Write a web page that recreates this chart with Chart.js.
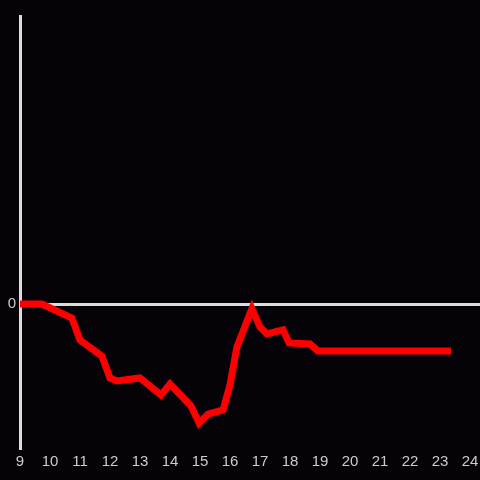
<!DOCTYPE html>
<html>
<head>
<meta charset="utf-8">
<script src="https://cdn.jsdelivr.net/npm/chart.js@4/dist/chart.umd.min.js"></script>
<style>
  html, body { margin: 0; padding: 0; background: #050307; }
  #wrap { width: 480px; height: 480px; }
</style>
</head>
<body>
<div id="wrap"><canvas id="lineChart"></canvas></div>
<script>
// hour of day and value
const hours = [9, 9.73, 10.73, 11.0, 11.73, 12.0, 12.23, 13.0, 13.7, 14.0, 14.7, 14.97,
               15.27, 15.77, 16.0, 16.23, 16.73, 17.0, 17.23, 17.77, 17.97, 18.67, 18.93, 23.37];
const values = [0, 0, -4.9, -12.5, -18.1, -25.7, -26.7, -25.7, -31.6, -27.8, -35.4, -41.3,
                -38.2, -36.8, -28.1, -14.9, -1.6, -8.0, -10.4, -9.0, -13.5, -13.9, -16.3, -16.3];
const xTicks = [9, 10, 11, 12, 13, 14, 15, 16, 17, 18, 19, 20, 21, 22, 23, 24];
const yTicks = [0];

const bgPlugin = {
  id: 'bg',
  beforeDraw(chart) {
    const ctx = chart.ctx;
    ctx.save();
    ctx.fillStyle = '#050307';
    ctx.fillRect(0, 0, chart.width, chart.height);
    ctx.restore();
  }
};

new Chart(document.getElementById('lineChart'), {
  type: 'line',
  data: {
    datasets: [{
      data: hours.map((h, i) => ({ x: h, y: values[i] })),
      borderColor: '#ff0000',
      borderWidth: 7,
      pointRadius: 0,
      tension: 0,
      fill: false
    }]
  },
  options: {
    responsive: true,
    maintainAspectRatio: false,
    animation: false,
    layout: { padding: { top: 16, right: 0, left: 0, bottom: 0 } },
    plugins: { legend: { display: false }, tooltip: { enabled: false } },
    scales: {
      x: {
        type: 'linear',
        min: 9,
        max: 24.333,
        afterBuildTicks: scale => { scale.ticks = xTicks.map(v => ({ value: v })); },
        afterFit: scale => {
          scale.height = 32;
          scale.paddingLeft = 0;
          scale.paddingRight = 0;
        },
        grid: { display: false },
        border: { display: false },
        ticks: {
          autoSkip: false,
          maxRotation: 0,
          padding: -3,
          color: '#cccccc',
          font: { family: '"Liberation Sans", Arial, sans-serif', size: 15 }
        }
      },
      y: {
        min: -50,
        max: 100,
        afterBuildTicks: scale => { scale.ticks = yTicks.map(v => ({ value: v })); },
        afterFit: scale => { scale.width = 20; },
        grid: { color: '#dddddd', lineWidth: 3, drawTicks: false },
        border: { display: true, color: '#dddddd', width: 3 },
        ticks: {
          padding: 4,
          color: '#cccccc',
          font: { family: '"Liberation Sans", Arial, sans-serif', size: 15 }
        }
      }
    }
  },
  plugins: [bgPlugin]
});
</script>
</body>
</html>
